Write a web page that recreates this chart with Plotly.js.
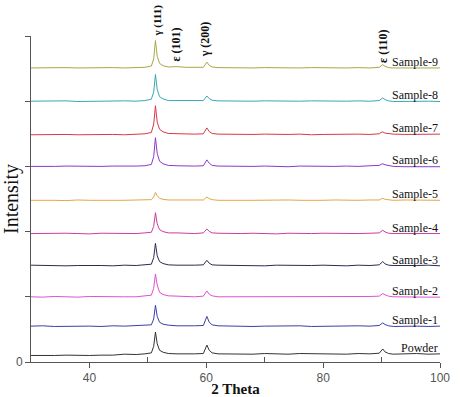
<!DOCTYPE html>
<html>
<head>
<meta charset="utf-8">
<script src="https://cdn.plot.ly/plotly-3.0.1.min.js"></script>
<style>html,body{margin:0;padding:0;background:#fff;}#chart{width:474px;height:397px;}</style>
</head>
<body>
<div id="chart"></div>
<script>
// 2-theta grid (degrees)
const twoTheta = [30,32,34,36,38,40,42,44,46,48,49.5,50.6,51,51.3,51.6,52,52.6,53.5,55,56.5,58,59.5,59.8,60.1,60.5,61,62,64,66,68,70,72,74,76,78,80,82,84,86,88,89.6,89.9,90.2,90.6,91.2,92,94,96,98,100];

const sampleNames = ["Powder","Sample-1","Sample-2","Sample-3","Sample-4","Sample-5","Sample-6","Sample-7","Sample-8","Sample-9"];

// vertical stacking offsets (arbitrary intensity units)
const offsets = [12,55,100,148,197,248,300,349,400,451];

// intensities (above each baseline)
const powder = [-2,-2.5,-2,-1.5,-2,-2,-1.5,-1.5,0,-0.5,0.5,2,12,34,16,6,3,1,0.5,0,0.5,1,7,14,6,2,0.5,0,0.5,0,1,0.5,0,1,0.5,0,0.5,0,1,0.5,1.5,5,8,3.5,1,0,0.5,1,0,0.5];
const sample1 = [0,0.5,-0.5,0,0.5,0,-0.5,0.5,0,0.5,1,2,11,32,15,6,3,1.5,0.5,0,0.5,1,7,15,6,2,0.5,0,0.5,-0.5,0,0.5,0,0.5,-0.5,0,0.5,0,0.5,0,1,3,5,2.5,0.5,-0.5,0,0,-0.5,0];
const sample2 = [0,-0.5,0.5,0,-0.5,0.5,0,0.5,0,0,1,2.5,13,35,18,7,3.5,1.5,1,0.5,0,1,5,9,4,1.5,0,0,-0.5,0,0.5,0,-0.5,0,0.5,-0.5,0,0.5,0,0.5,1,3,5,3,1,0,-0.5,0,-0.5,-0.5];
const sample3 = [0.5,0,0.5,-0.5,0,0.5,0,-0.5,0.5,0,1,2,12,34,15,6,3,1,0.5,0,0.5,1,4.5,8,3.5,1,0.5,0,0.5,0,-0.5,0.5,0,0.5,0,0.5,0,-0.5,0.5,0,1,3.5,6,2.5,0.5,0,-0.5,0,0.5,-0.5];
const sample4 = [0,0.5,0,0.5,0,-0.5,0.5,0,0.5,0,1,2,11,32,15,6,3,1,1,0.5,0,1,4,7,3.5,1,0.5,0,0,0.5,0,-0.5,0.5,0,0,0.5,0,0.5,0,0.5,1,3,5,2.5,0.5,0,0,-0.5,0,0];
const sample5 = [0,0.5,0,-0.5,0.5,0,0.5,0,0,0.5,0.5,1,5,12,7,3,1.5,0.5,0.5,0,0.5,0.5,3,5,2.5,1,0,0.5,0,0,0.5,0,0.5,0,-0.5,0,0.5,0,0,0.5,0.5,2,3,1.5,0.5,0,0.5,0,0,0];
const sample6 = [0,-0.5,0,0.5,0,-0.5,0,0.5,0,0.5,1,3,15,44,20,8,4,1.5,1,0.5,0.5,1,5,10,5,1.5,0.5,0,0.5,0,0.5,0,-0.5,0.5,0,0.5,0,0.5,0,1,1.5,3,4,2.5,1,0,-0.5,0,-0.5,-0.5];
const sample7 = [-0.5,0,0.5,0,-0.5,0,0.5,0,-0.5,0,1,3,16,44,19,8,4,1.5,1,0.5,0.5,1,5.5,10,4.5,1.5,0.5,0,-0.5,0,0.5,0,0,0.5,-0.5,0,0.5,0,0.5,0,1,3,4,2,1,0.5,0,0.5,0,0.5];
const sample8 = [0,0.5,0,0.5,-0.5,0,0.5,0,0.5,0,1,3,14,41,18,7,3.5,1,1,0.5,0,1,4.5,8,4,1.5,0.5,0,0.5,0,0.5,0,-0.5,0,0.5,0,-0.5,0,0.5,0,1,3,5,2.5,0.5,-0.5,0,-0.5,0,-0.5];
const sample9 = [0,0.5,0,0.5,0,0.5,0,0.5,0,0.5,1,3,14,42,18,7,3.5,1.5,2,1,0.5,1,5,9,4,1.5,0.5,0,0.5,0,0.5,0,0.5,0,0.5,0,0.5,0,0.5,0,1,3,5,2.5,0.5,0,0,0.5,0,0];

const series = [powder,sample1,sample2,sample3,sample4,sample5,sample6,sample7,sample8,sample9];
const colors = ["#333333","#3b3fa8","#e050d0","#2b2b55","#cc3d9c","#e8a545","#8a3ac8","#d83848","#3aa6b6","#a8a848"];

// peak labels
const peakLabels = ["γ (111)","ε (101)","γ (200)","ε (110)"];
const peakPos = [51.5,54.9,59.7,90.15];
const peakLabelBase = [500,460,465,457];

const traces = series.map((s,i)=>({
  x: twoTheta,
  y: s.map(v=>v+offsets[i]),
  type:'scatter', mode:'lines',
  line:{color:colors[i], width:1},
  name: sampleNames[i], showlegend:false, hoverinfo:'skip'
}));

const annotations = [];
sampleNames.forEach((n,i)=>{
  annotations.push({x:100, y:offsets[i], xref:'x', yref:'y', text:n, showarrow:false, yshift:-3,
    xanchor:'right', yanchor:'bottom', font:{family:'Liberation Serif', size:12, color:'#111'}});
});
peakLabels.forEach((t,i)=>{
  annotations.push({x:peakPos[i], y:peakLabelBase[i], xref:'x', yref:'y', text:'<b>'+t+'</b>', textangle:-90,
    showarrow:false, xanchor:'center', yanchor:'bottom', yshift:(i===0?-2:0), borderpad:0,
    font:{family:'Liberation Serif', size:(i===0?11:12), color:'#111'}});
});

const layout = {
  width:474, height:397,
  margin:{l:31, r:34, t:36, b:35},
  paper_bgcolor:'#fff', plot_bgcolor:'#fff',
  showlegend:false,
  xaxis:{
    range:[30,100], tickvals:[40,60,80,100], ticks:'outside', ticklen:5, tickcolor:'#555',
    showline:true, linecolor:'#555', linewidth:1, showgrid:false, zeroline:false,
    tickfont:{family:'Liberation Sans', size:12, color:'#555'},
    minor:{tickvals:[50,70,90], ticks:'inside', ticklen:5, tickcolor:'#555', showgrid:false},
    title:{text:'<b>2 Theta</b>', font:{family:'Liberation Serif', size:15, color:'#111'}, standoff:0}
  },
  yaxis:{
    range:[0,500], tickvals:[0,100,200,300,400,500], ticktext:['0','','','','',''],
    ticks:'outside', ticklen:5, tickcolor:'#555',
    showline:true, linecolor:'#555', linewidth:1, showgrid:false, zeroline:false,
    tickfont:{family:'Liberation Sans', size:12, color:'#555'},
    title:{text:'Intensity', font:{family:'Liberation Serif', size:20, color:'#111'}, standoff:0}
  },
  annotations: annotations
};

Plotly.newPlot('chart', traces, layout, {displayModeBar:false, staticPlot:true});
</script>
</body>
</html>
